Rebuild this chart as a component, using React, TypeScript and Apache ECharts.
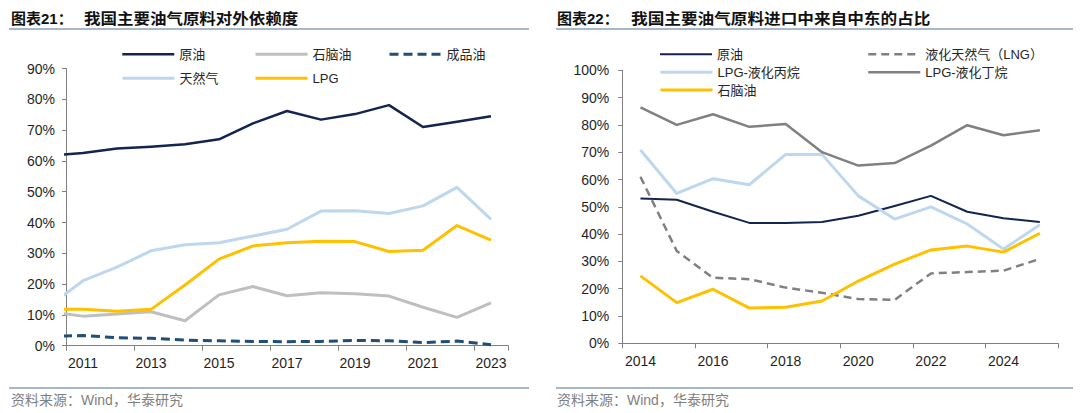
import React, { useEffect, useRef } from 'react';
import * as echarts from 'echarts';

// ---------- Left chart: 我国主要油气原料对外依赖度 (%) ----------
const leftYears = [2010, 2011, 2012, 2013, 2014, 2015, 2016, 2017, 2018, 2019, 2020, 2021, 2022, 2023];
const leftAxisLabels = ['2011', '2012', '2013', '2014', '2015', '2016', '2017', '2018', '2019', '2020', '2021', '2022', '2023'];
const crudeDep = [61.6, 62.6, 64.0, 64.6, 65.4, 67.0, 72.2, 76.2, 73.4, 75.2, 78.1, 71.0, 72.7, 74.5];
const naphthaDep = [11.0, 9.6, 10.3, 11.0, 8.1, 16.5, 19.2, 16.2, 17.2, 16.9, 16.1, 12.5, 9.2, 13.9];
const productDep = [3.1, 3.3, 2.6, 2.4, 1.8, 1.6, 1.4, 1.3, 1.4, 1.7, 1.6, 1.0, 1.5, 0.3];
const gasDep = [12.9, 21.1, 25.5, 30.8, 32.8, 33.4, 35.6, 37.8, 43.7, 43.8, 42.9, 45.4, 51.4, 41.0];
const lpgDep = [11.8, 11.8, 11.2, 11.8, 19.7, 28.1, 32.4, 33.4, 33.9, 33.8, 30.6, 31.0, 39.0, 34.3];

// ---------- Right chart: 我国主要油气原料进口中来自中东的占比 (%) ----------
const rightYears = ['2014', '2015', '2016', '2017', '2018', '2019', '2020', '2021', '2022', '2023', '2024', '2025'];
const crudeME = [53.0, 52.6, 48.2, 44.1, 44.1, 44.4, 46.7, 50.3, 54.0, 48.2, 45.8, 44.4];
const lngME = [61.0, 33.8, 24.0, 23.5, 20.4, 18.5, 16.2, 15.9, 25.6, 26.1, 26.6, 30.9];
const propaneME = [70.8, 54.9, 60.3, 58.1, 69.2, 69.2, 54.0, 45.5, 50.0, 43.7, 34.5, 43.4];
const butaneME = [86.4, 80.0, 83.9, 79.3, 80.3, 70.0, 65.1, 66.0, 72.4, 79.9, 76.2, 78.0];
const naphthaME = [24.7, 14.9, 19.8, 12.9, 13.2, 15.5, 22.8, 29.0, 34.2, 35.6, 33.4, 40.3];

const leftTitleNo = '图表21：';
const leftTitle = '我国主要油气原料对外依赖度';
const rightTitleNo = '图表22：';
const rightTitle = '我国主要油气原料进口中来自中东的占比';
const sourceText = '资料来源：Wind，华泰研究';

const FONT = "'Liberation Sans', Arial, 'Noto Sans CJK SC', sans-serif";
const AXIS_GRAY = '#808080';

const NAVY = '#12244F';
const LIGHT_GRAY = '#BFBFBF';
const STEEL = '#1F4E79';
const LIGHT_BLUE = '#BDD7EE';
const GOLD = '#FFC000';
const MID_GRAY = '#808080';

const styles: Record<string, any> = {
  lCrude: { color: NAVY, width: 2.5, type: 'solid' },
  lNaphtha: { color: LIGHT_GRAY, width: 3, type: 'solid' },
  lProduct: { color: STEEL, width: 3, type: [9, 5] },
  lGas: { color: LIGHT_BLUE, width: 3, type: 'solid' },
  lLpg: { color: GOLD, width: 3, type: 'solid' },
  rCrude: { color: NAVY, width: 2, type: 'solid' },
  rLng: { color: MID_GRAY, width: 2.5, type: [8, 5] },
  rPropane: { color: LIGHT_BLUE, width: 3, type: 'solid' },
  rButane: { color: MID_GRAY, width: 2.5, type: 'solid' },
  rNaphtha: { color: GOLD, width: 3, type: 'solid' },
};

function legendItem(name: string, left: number, cy: number, ls: any) {
  return {
    selectedMode: false,
    left,
    top: cy - 8,
    padding: 0,
    itemWidth: 52,
    itemHeight: 2,
    itemGap: 0,
    itemStyle: { opacity: 0 },
    data: [{ name, lineStyle: { ...ls, join: 'round' }, itemStyle: { opacity: 0 } }],
    textStyle: { fontSize: 13, color: '#262626', fontFamily: FONT, lineHeight: 16 },
  };
}

function lineSeries(name: string, data: any[], ls: any, xAxisIndex: number, yAxisIndex: number) {
  return {
    type: 'line',
    name,
    data,
    xAxisIndex,
    yAxisIndex,
    symbol: 'none',
    clip: true,
    lineStyle: { ...ls, join: 'round', cap: 'butt' },
    itemStyle: { color: ls.color },
    emphasis: { disabled: true },
  };
}

function yAxisCfg(gridIndex: number, max: number, margin: number) {
  return {
    type: 'value',
    gridIndex,
    min: 0,
    max,
    interval: 10,
    splitLine: { show: false },
    axisLine: { show: true, lineStyle: { color: AXIS_GRAY, width: 1 } },
    axisTick: { show: true, inside: false, length: 4, lineStyle: { color: AXIS_GRAY } },
    axisLabel: { formatter: '{value}%', fontSize: 14, color: '#1F1F1F', fontFamily: FONT, margin },
  };
}

function catAxisCfg(gridIndex: number, data: string[], margin: number) {
  return {
    type: 'category',
    gridIndex,
    data,
    boundaryGap: true,
    axisLine: { show: true, onZero: false, lineStyle: { color: AXIS_GRAY, width: 1 } },
    axisTick: { show: true, interval: 1, length: 5, lineStyle: { color: AXIS_GRAY } },
    axisLabel: { interval: 1, fontSize: 14, color: '#1F1F1F', fontFamily: FONT, margin },
    splitLine: { show: false },
  };
}

function frameGraphics(x0: number, x1: number, textX: number, titleNo: string, title: string, titleX: number, scaleX: number) {
  return [
    {
      type: 'text',
      x: textX,
      y: 18,
      style: { text: titleNo, fontSize: 15, fontWeight: 'bold', fill: '#111', fontFamily: FONT, verticalAlign: 'middle', align: 'left' },
    },
    {
      type: 'text',
      x: titleX,
      y: 18,
      scaleX,
      style: { text: title, fontSize: 15, fontWeight: 'bold', fill: '#111', fontFamily: "'Noto Sans CJK SC', sans-serif", verticalAlign: 'middle', align: 'left' },
    },
    { type: 'line', shape: { x1: x0, y1: 29, x2: x1, y2: 29 }, style: { stroke: '#A7B7CC', lineWidth: 2 } },
    { type: 'line', shape: { x1: x0, y1: 388, x2: x1, y2: 388 }, style: { stroke: '#A7B7CC', lineWidth: 2 } },
    {
      type: 'text',
      x: textX,
      y: 400,
      style: { text: sourceText, fontSize: 14, fill: '#7F7F7F', fontFamily: FONT, verticalAlign: 'middle', align: 'left' },
    },
  ];
}

const pairs = (xs: number[], ys: number[]) => xs.map((x, i) => [x, ys[i]]);

export default function App() {
  const ref = useRef<HTMLDivElement>(null);
  useEffect(() => {
    if (!ref.current) return;
    const chart = echarts.init(ref.current, null, { renderer: 'svg' });
    const option: any = {
      animation: false,
      backgroundColor: '#ffffff',
      grid: [
        { left: 66, top: 68.5, width: 442, height: 277.2 },
        { left: 622.3, top: 70.3, width: 435.7, height: 273 },
      ],
      xAxis: [
        catAxisCfg(0, leftAxisLabels, 10),
        { type: 'value', gridIndex: 0, min: 2010.5, max: 2023.5, show: false },
        catAxisCfg(1, rightYears, 11),
      ],
      yAxis: [yAxisCfg(0, 90, 11), yAxisCfg(1, 100, 13)],
      legend: [
        legendItem('原油', 121, 54.3, styles.lCrude),
        legendItem('石脑油', 254, 54.3, styles.lNaphtha),
        legendItem('成品油', 388, 54.3, styles.lProduct),
        legendItem('天然气', 121, 78.3, styles.lGas),
        legendItem('LPG', 254, 78.3, styles.lLpg),
        legendItem('原油', 659, 54.3, styles.rCrude),
        legendItem('液化天然气（LNG）', 867, 54.3, styles.rLng),
        legendItem('LPG-液化丙烷', 659, 72.3, styles.rPropane),
        legendItem('LPG-液化丁烷', 867, 72.3, styles.rButane),
        legendItem('石脑油', 659, 90, styles.rNaphtha),
      ],
      graphic: [
        ...frameGraphics(9, 529, 11, leftTitleNo, leftTitle, 84, 1.1),
        ...frameGraphics(556, 1073, 557, rightTitleNo, rightTitle, 631, 1.11),
      ],
      series: [
        lineSeries('原油', pairs(leftYears, crudeDep), styles.lCrude, 1, 0),
        lineSeries('石脑油', pairs(leftYears, naphthaDep), styles.lNaphtha, 1, 0),
        lineSeries('成品油', pairs(leftYears, productDep), styles.lProduct, 1, 0),
        lineSeries('天然气', pairs(leftYears, gasDep), styles.lGas, 1, 0),
        lineSeries('LPG', pairs(leftYears, lpgDep), styles.lLpg, 1, 0),
        lineSeries('原油', crudeME, styles.rCrude, 2, 1),
        lineSeries('液化天然气（LNG）', lngME, styles.rLng, 2, 1),
        lineSeries('LPG-液化丙烷', propaneME, styles.rPropane, 2, 1),
        lineSeries('LPG-液化丁烷', butaneME, styles.rButane, 2, 1),
        lineSeries('石脑油', naphthaME, styles.rNaphtha, 2, 1),
      ],
    };
    chart.setOption(option);
    return () => chart.dispose();
  }, []);
  return (
    <div
      ref={ref}
      style={{ position: 'absolute', left: 0, top: 0, width: 1080, height: 413, background: '#fff' }}
    />
  );
}
